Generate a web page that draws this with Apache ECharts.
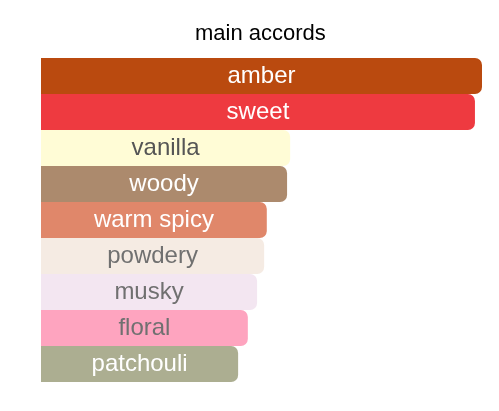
<!DOCTYPE html>
<html>
<head>
<meta charset="utf-8">
<script src="https://cdn.jsdelivr.net/npm/echarts@6/dist/echarts.min.js"></script>
<style>
html,body{margin:0;padding:0;background:#fff;}
#chart{width:499px;height:411px;}
</style>
</head>
<body>
<div id="chart"></div>
<script>
const categories = ['amber','sweet','vanilla','woody','warm spicy','powdery','musky','floral','patchouli'];
const values = [100, 98.4, 56.5, 55.8, 51.2, 50.6, 49.0, 46.9, 44.7];
const barColors = ['#BA4A0F','#EE3A40','#FFFCD6','#AC8A6D','#E0876A','#F5EBE3','#F3E6F1','#FEA4BF','#ACAE91'];
const textColors = ['#ffffff','#ffffff','#555555','#ffffff','#ffffff','#707070','#707070','#707070','#ffffff'];

const chart = echarts.init(document.getElementById('chart'));
chart.setOption({
  animation: false,
  title: {
    text: 'main accords',
    left: 195,
    top: 23,
    padding: 0,
    textStyle: {fontFamily: 'Liberation Sans, Arial, sans-serif', fontSize: 22, fontWeight: 'normal', color: '#000'}
  },
  grid: {left: 41, right: 17, top: 58, bottom: 29, containLabel: false},
  xAxis: {type: 'value', min: 0, max: 100, show: false},
  yAxis: {type: 'category', data: categories, inverse: true, show: false},
  series: [{
    type: 'bar',
    barCategoryGap: 0,
    data: values.map((v, i) => ({
      value: v,
      itemStyle: {color: barColors[i]},
      label: {color: textColors[i]}
    })),
    itemStyle: {borderRadius: [0, 7, 7, 0]},
    label: {
      show: true,
      position: 'inside',
      formatter: p => p.name,
      fontFamily: 'Liberation Sans, Arial, sans-serif',
      fontSize: 24
    }
  }]
});
</script>
</body>
</html>
